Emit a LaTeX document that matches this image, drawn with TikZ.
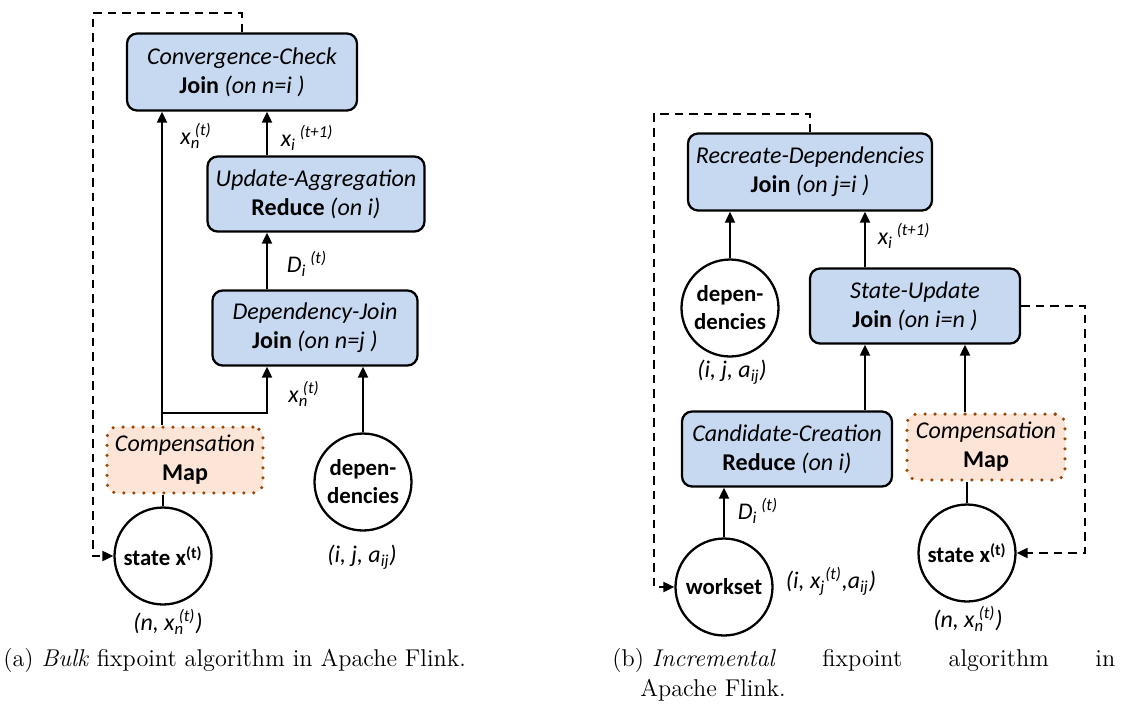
\documentclass[tikz,border=0pt]{standalone}
\usepackage{fontspec}
\newfontfamily\calib{Carlito}
\usetikzlibrary{arrows.meta}
\definecolor{opblue}{RGB}{198,217,240}
\definecolor{mappeach}{RGB}{252,228,214}
\definecolor{mapbrown}{RGB}{152,72,6}
\newcommand\supsub[3]{#1\textsubscript{#2}\kern-0.22em\textsuperscript{#3}}
\tikzset{
  op/.style={draw, line width=1.3pt, rounded corners=0.2cm, fill=opblue, minimum height=1.5cm,
    align=center, inner sep=2pt, font=\calib\fontsize{13.7}{16.5}\selectfont},
  mapop/.style={op, draw=mapbrown, fill=mappeach, line width=2pt, dash pattern=on 0pt off 0.2cm,
    line cap=round, minimum height=1.32cm},
  ds/.style={circle, draw, line width=1.3pt, fill=white, minimum size=1.94cm, inner sep=0pt,
    align=center, font=\calib\bfseries\fontsize{13}{16}\selectfont},
  lbl/.style={font=\calib\itshape\fontsize{13.6}{15}\selectfont, inner sep=0pt},
  flow/.style={line width=1.1pt, -{Triangle[length=0.22cm, width=0.2cm]}},
  back/.style={line width=1.1pt, dash pattern=on 0.17cm off 0.12cm, -{Triangle[length=0.22cm, width=0.2cm]}},
  subcap/.style={font=\fontsize{13.8}{16}\selectfont, inner sep=0pt, anchor=west}
}

\begin{document}
\begin{tikzpicture}[x=0.02cm, y=-0.02cm]
  \useasboundingbox (0,0) rectangle (1123,711);

  \node[op, minimum width=4.6cm, minimum height=1.54cm] (cc) at (242,72) {\textit{Convergence-Check}\\\textbf{Join} \textit{(on n=i )}};
  \node[op, minimum width=4.34cm] (ua) at (316,194) {\textit{Update-Aggregation}\\\textbf{Reduce} \textit{(on i)}};
  \node[op, minimum width=4.1cm] (dj) at (315,328) {\textit{Dependency-Join}\\\textbf{Join} \textit{(on n=j )}};
  \node[mapop, minimum width=3.12cm] (cm) at (185,460) {\textit{Compensation}\\\textbf{Map}};
  \node[ds] (st) at (163,556) {state x\textsuperscript{(t)}};
  \node[ds] (dep) at (363,482) {depen-\\dencies};
  \coordinate (c1) at (162,0);
  \coordinate (c2) at (267,0);
  \coordinate (j) at (162,413);
  \coordinate (l) at (93,13);

  \draw[flow] (ua.north -| c2) -- (cc.south -| c2);
  \draw[flow] (dj.north -| c2) -- (ua.south -| c2);
  \draw[flow] (cm.north -| c1) -- (cc.south -| c1);
  \draw[flow] (j) -| (dj.south -| c2);
  \draw[flow] (dep.north) -- (dj.south -| dep);
  \draw[line width=1.1pt] (st.north) -- (cm.south -| st);
  \draw[back] (cc.north) |- (l) |- (st.west);

  \node[lbl] (x1) at (196,136) {\supsub{x}{n}{(t)}};
  \node[lbl] (x2) at (307,138) {x\textsubscript{i}\,\textsuperscript{(t+1)}};
  \node[lbl] (d1) at (307,264) {D\textsubscript{i}\,\textsuperscript{(t)}};
  \node[lbl] (x3) at (304,394) {\supsub{x}{n}{(t)}};
  \node[lbl] (t1) at (168,622) {(n, \supsub{x}{n}{(t)})};
  \node[lbl] (t2) at (362,557) {(i, j, a\textsubscript{ij})};

  \node[op, minimum width=4.88cm, minimum height=1.54cm] (rd) at (810,172) {\textit{Recreate-Dependencies}\\\textbf{Join} \textit{(on j=i )}};
  \node[op, minimum width=4.2cm] (su) at (915,306) {\textit{State-Update}\\\textbf{Join} \textit{(on i=n )}};
  \node[op, minimum width=4.2cm] (cr) at (787,449) {\textit{Candidate-Creation}\\\textbf{Reduce} \textit{(on i)}};
  \node[mapop, minimum width=3.16cm] (cm2) at (986,447) {\textit{Compensation}\\\textbf{Map}};
  \node[ds] (st2) at (967,553) {state x\textsuperscript{(t)}};
  \node[ds] (dep2) at (730,308) {depen-\\dencies};
  \node[ds] (ws) at (724,587) {workset};
  \coordinate (e1) at (865,0);
  \coordinate (e2) at (965,0);
  \coordinate (r) at (654,114);
  \coordinate (q) at (1085,553);

  \draw[flow] (dep2.north) -- (rd.south -| dep2);
  \draw[flow] (su.north -| e1) -- (rd.south -| e1);
  \draw[flow] (cr.north -| e1) -- (su.south -| e1);
  \draw[flow] (cm2.north -| e2) -- (su.south -| e2);
  \draw[flow] (ws.north) -- (cr.south -| ws);
  \draw[line width=1.1pt] (st2.north) -- (cm2.south -| st2);
  \draw[back] (rd.north) |- (r) |- (ws.west);
  \draw[back] (su.east) -| (q) -- (st2.east);

  \node[lbl] (x4) at (904,236) {x\textsubscript{i}\,\textsuperscript{(t+1)}};
  \node[lbl] (d2) at (758,511) {D\textsubscript{i}\,\textsuperscript{(t)}};
  \node[lbl] (t3) at (732,372) {(i, j, a\textsubscript{ij})};
  \node[lbl] (t4) at (831,581) {(i, x\textsubscript{j}\textsuperscript{(t)},a\textsubscript{ij})};
  \node[lbl] (t5) at (968,619) {(n, \supsub{x}{n}{(t)})};

  \node[subcap] (ca) at (3,660) {(a) \textit{Bulk} fixpoint algorithm in Apache Flink.};
  \node[subcap] (cb) at (612,660) {\hbox to 10.06cm{(b) \textit{Incremental}\hfill fixpoint\hfill algorithm\hfill in}};
  \node[subcap] (cb2) at (640,690) {Apache Flink.};
\end{tikzpicture}
\end{document}
